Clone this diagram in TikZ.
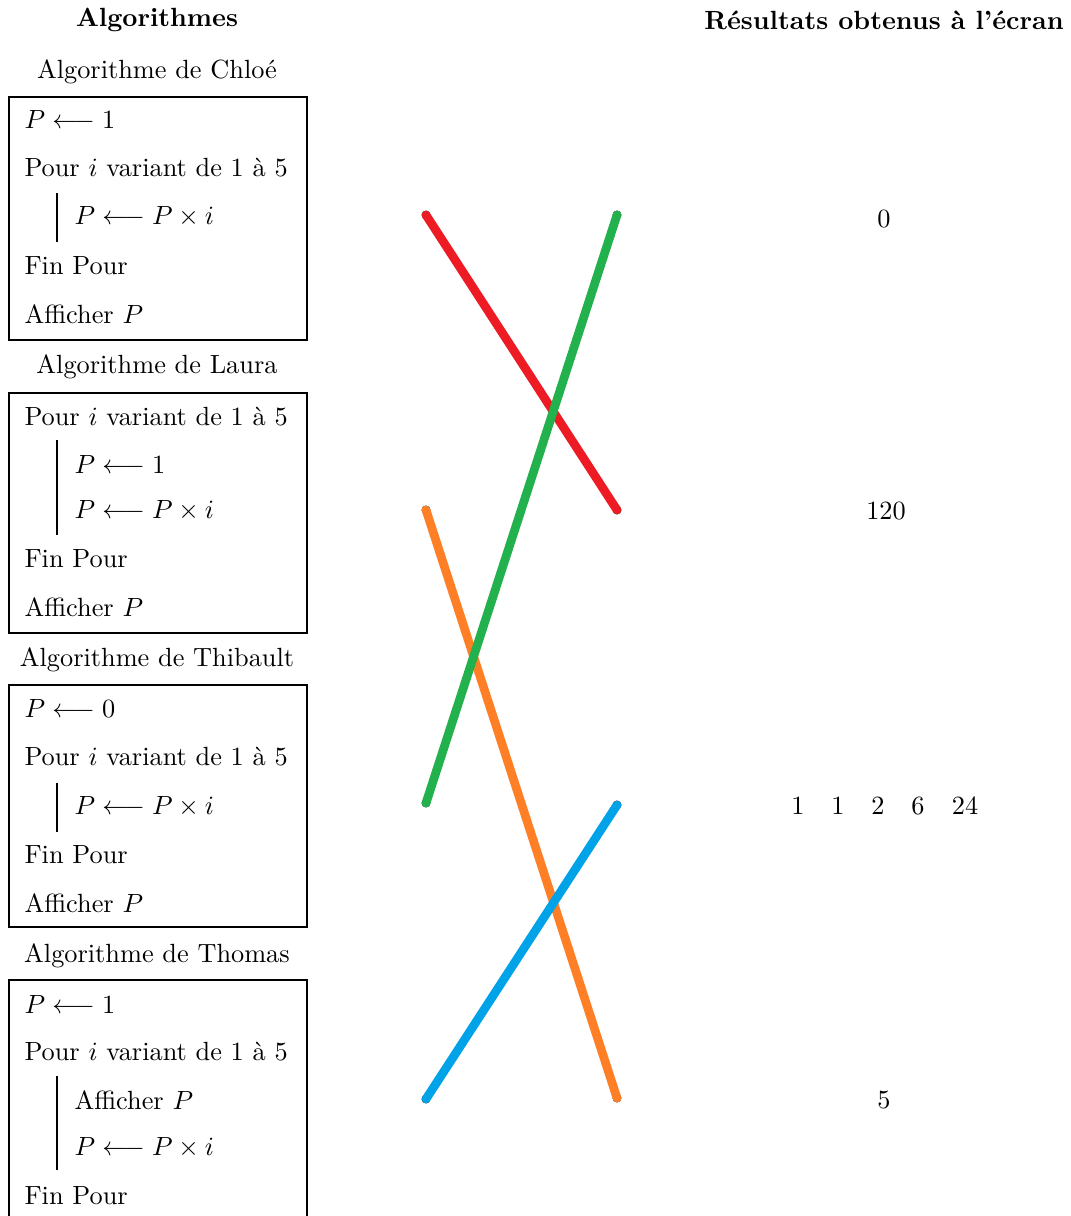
\documentclass[tikz,border=0pt]{standalone}
\usepackage{fontspec}
\definecolor{cred}{HTML}{ED1C24}
\definecolor{cgreen}{HTML}{22B14C}
\definecolor{corange}{HTML}{FF7F27}
\definecolor{cblue}{HTML}{00A2E8}
\begin{document}
\begin{tikzpicture}[x=0.38pt,y=-0.38pt,
  algbox/.style={draw, line width=0.6pt},
  ln/.style={anchor=west, inner sep=0pt},
  ttl/.style={inner sep=0pt},
  hdr/.style={font=\bfseries, inner sep=0pt},
  res/.style={inner sep=0pt},
  bar/.style={line width=0.8pt},
  dotn/.style={circle, fill=black, inner sep=0pt, minimum size=3.4pt},
  link/.style={line width=3.3pt, line cap=round}]
\useasboundingbox (0,0) rectangle (1070,1216);

% headers
\node[hdr] (h1) at (157,20) {Algorithmes};
\node[hdr] (h2) at (884,20) {Résultats obtenus à l'écran};

% Chloé
\node[ttl] (t1) at (157,72) {Algorithme de Chloé};
\draw[algbox] (9,97) rectangle (307,340);
\node[ln] (c1) at (24,120) {$P \longleftarrow 1$};
\node[ln] (c2) at (24,168) {Pour $i$ variant de 1 à 5};
\node[ln] (c3) at (74,217) {$P \longleftarrow P\times i$};
\node[ln] (c4) at (24,266) {Fin Pour};
\node[ln] (c5) at (24,314) {Afficher $P$};
\draw[bar] (57,193) -- (57,242);

% Laura
\node[ttl] (t2) at (157,367) {Algorithme de Laura};
\draw[algbox] (9,393) rectangle (307,633);
\node[ln] (l1) at (24,417) {Pour $i$ variant de 1 à 5};
\node[ln] (l2) at (74,465) {$P \longleftarrow 1$};
\node[ln] (l3) at (74,511) {$P \longleftarrow P\times i$};
\node[ln] (l4) at (24,559) {Fin Pour};
\node[ln] (l5) at (24,607) {Afficher $P$};
\draw[bar] (57,440) -- (57,535);

% Thibault
\node[ttl] (t3) at (157,660) {Algorithme de Thibault};
\draw[algbox] (9,685) rectangle (307,927);
\node[ln] (b1) at (24,709) {$P \longleftarrow 0$};
\node[ln] (b2) at (24,757) {Pour $i$ variant de 1 à 5};
\node[ln] (b3) at (74,807) {$P \longleftarrow P\times i$};
\node[ln] (b4) at (24,855) {Fin Pour};
\node[ln] (b5) at (24,903) {Afficher $P$};
\draw[bar] (57,783) -- (57,832);

% Thomas
\node[ttl] (t4) at (157,956) {Algorithme de Thomas};
\draw[algbox] (9,1216) -- (9,980) -- (307,980) -- (307,1216);
\node[ln] (m1) at (24,1004) {$P \longleftarrow 1$};
\node[ln] (m2) at (24,1052) {Pour $i$ variant de 1 à 5};
\node[ln] (m3) at (74,1100) {Afficher $P$};
\node[ln] (m4) at (74,1148) {$P \longleftarrow P\times i$};
\node[ln] (m5) at (24,1196) {Fin Pour};
\draw[bar] (57,1076) -- (57,1170);

% results
\node[res] (r1) at (884,219) {0};
\node[res] (r2) at (886,511) {120};
\node[res] (r3a) at (798,806) {1};
\node[res] (r3b) at (838,806) {1};
\node[res] (r3c) at (878,806) {2};
\node[res] (r3d) at (918,806) {6};
\node[res] (r3e) at (965,806) {24};
\node[res] (r4) at (884,1100) {5};

% dots
\node[dotn] (L1) at (426,215) {};
\node[dotn] (L2) at (426,510) {};
\node[dotn] (L3) at (426,803) {};
\node[dotn] (L4) at (426,1099) {};
\node[dotn] (R1) at (617,215) {};
\node[dotn] (R2) at (617,510) {};
\node[dotn] (R3) at (617,805) {};
\node[dotn] (R4) at (617,1098) {};

% links
\draw[link, cred] (L1.center) -- (R2.center);
\draw[link, corange] (L2.center) -- (R4.center);
\draw[link, cgreen] (L3.center) -- (R1.center);
\draw[link, cblue] (L4.center) -- (R3.center);
\end{tikzpicture}
\end{document}
